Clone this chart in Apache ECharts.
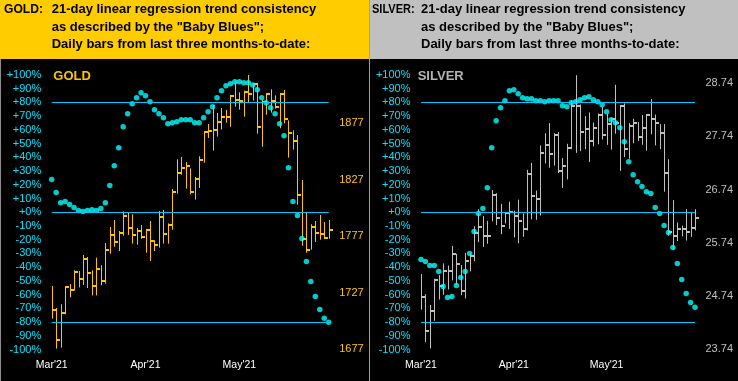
<!DOCTYPE html>
<html>
<head>
<meta charset="utf-8">
<script src="https://cdn.jsdelivr.net/npm/echarts@6/dist/echarts.min.js"></script>
<style>html,body{margin:0;padding:0;background:#000;}#c{width:738px;height:381px;}</style>
</head>
<body>
<div id="c"></div>
<script>
// ---- data ----
const categories = ["03-01","03-02","03-03","03-04","03-05","03-08","03-09","03-10","03-11","03-12",
"03-15","03-16","03-17","03-18","03-19","03-22","03-23","03-24","03-25","03-26",
"03-29","03-30","03-31","04-01","04-05","04-06","04-07","04-08","04-09","04-12",
"04-13","04-14","04-15","04-16","04-19","04-20","04-21","04-22","04-23","04-26",
"04-27","04-28","04-29","04-30","05-03","05-04","05-05","05-06","05-07","05-10",
"05-11","05-12","05-13","05-14","05-17","05-18","05-19","05-20","05-21","05-24",
"05-25","05-26","05-27"];
const monthTickIdx = [0, 21, 42];
const monthLabels = ["Mar'21", "Apr'21", "May'21"];
const refLines = [80, 0, -80];
const goldPriceTicks = [1677, 1727, 1777, 1827, 1877];
const silverPriceTicks = [23.74, 24.74, 25.74, 26.74, 27.74, 28.74];

const goldHigh = [1732.8,1713.3,1716.6,1732.8,1734.6,1746.7,1746.1,1760.3,1758.5,1746.7,
1757.9,1751.1,1770.9,1785.1,1791.3,1781.5,1798.9,1798.3,1796.3,1784.2,
1786.8,1783.0,1790.4,1773.3,1799.2,1800.1,1788.3,1818.7,1845.0,1847.1,
1842.6,1837.0,1829.3,1847.7,1869.5,1876.3,1892.8,1886.0,1890.5,1888.7,
1902.0,1912.9,1904.3,1905.8,1919.7,1912.6,1912.6,1897.8,1903.7,1907.0,
1901.7,1903.7,1906.4,1879.5,1870.7,1866.5,1826.7,1798.0,1787.4,1790.4,
1795.7,1789.5,1791.3];
const goldLow = [1703.9,1677.3,1678.2,1707.7,1722.8,1728.7,1731.6,1733.7,1731.0,1724.5,
1724.5,1733.4,1734.9,1761.4,1767.6,1763.8,1777.4,1778.0,1770.3,1769.4,
1774.7,1762.3,1754.9,1763.8,1766.8,1770.3,1770.3,1782.7,1814.6,1831.4,
1819.0,1814.0,1809.3,1819.6,1842.0,1863.9,1852.7,1865.1,1871.3,1877.5,
1873.9,1891.6,1889.0,1882.8,1895.8,1897.0,1867.7,1856.2,1884.6,1886.3,
1889.9,1872.5,1876.9,1846.5,1853.6,1804.8,1768.5,1762.3,1765.0,1771.8,
1773.8,1774.4,1774.7];
const goldClose = [1711.2,1684.7,1709.2,1731.6,1729.6,1745.5,1739.0,1757.0,1744.6,1733.1,
1747.9,1737.5,1765.0,1778.3,1771.8,1780.0,1794.8,1784.5,1777.7,1781.8,
1776.5,1782.7,1772.7,1769.4,1793.9,1779.2,1786.8,1816.1,1833.2,1837.3,
1839.4,1816.4,1827.9,1844.4,1868.9,1870.4,1871.3,1878.4,1882.8,1882.8,
1900.8,1897.8,1896.7,1904.6,1903.2,1912.0,1873.6,1895.5,1903.2,1896.4,
1891.6,1902.6,1880.4,1868.6,1861.5,1813.7,1774.7,1765.0,1784.8,1780.0,
1779.2,1775.6,1782.7];
const goldBB = [23.8,14.3,7.0,7.8,5.6,3.4,1.2,0.5,1.2,1.9,
1.2,2.7,7.0,19.4,33.9,47.0,62.3,71.8,79.0,83.4,
87.0,84.8,80.5,74.7,71.8,68.8,64.5,65.2,65.9,67.4,
67.4,67.4,65.2,65.2,68.8,73.2,76.8,83.4,88.5,92.1,
93.6,95.0,95.0,94.3,94.3,92.8,89.2,83.4,79.8,76.1,
71.8,64.5,55.8,32.5,7.8,-2.4,-19.2,-35.9,-50.4,-61.3,
-70.8,-77.3,-80.2];

const silverHigh = [25.15,24.77,24.57,25.06,25.13,25.35,25.31,25.68,25.53,25.32,
25.55,25.54,26.05,26.37,26.24,26.15,26.73,26.67,26.47,26.32,
26.51,26.34,26.55,26.29,27.11,27.24,26.72,27.57,27.80,27.99,
27.80,27.82,27.33,27.60,28.42,28.89,28.34,28.12,28.19,28.00,
28.17,28.29,28.16,28.09,28.71,28.32,28.36,27.99,28.07,28.01,
28.14,28.15,28.44,28.15,27.97,27.97,27.31,26.54,26.12,26.06,
26.37,26.30,26.37];
const silverLow = [24.48,23.87,23.75,24.27,24.67,24.76,24.86,25.03,24.95,24.75,
24.69,25.20,25.39,25.75,25.66,25.72,26.14,26.07,25.90,26.10,
26.00,25.84,25.73,25.85,25.97,26.18,26.17,26.25,27.23,27.15,
27.19,27.05,26.77,26.93,27.50,27.43,27.46,27.50,27.26,27.55,
27.59,27.68,27.58,27.49,27.79,27.09,27.35,27.32,27.61,27.65,
27.58,27.47,27.78,27.57,27.50,26.70,25.87,25.60,25.77,25.86,
25.78,25.85,25.97];
const silverClose = [24.71,24.07,24.45,25.04,24.92,25.21,25.21,25.53,25.33,24.84,
25.40,25.48,25.93,26.04,25.87,25.87,26.64,26.20,26.06,26.29,
26.32,26.25,26.14,25.99,27.04,26.61,26.57,27.43,27.57,27.40,
27.77,27.09,27.19,27.53,28.32,28.31,27.83,27.87,27.66,27.89,
28.15,27.77,27.98,28.07,28.00,28.31,27.51,27.94,28.00,27.73,
27.89,28.15,28.06,28.00,27.80,27.06,25.95,25.86,25.99,26.00,
25.95,26.02,26.20];
const silverBB = [-34.4,-35.9,-38.8,-38.8,-43.2,-54.1,-62.1,-61.3,-53.3,-47.5,
-43.2,-30.1,-14.1,-1.0,2.7,17.9,47.0,66.7,76.1,81.2,
88.5,89.2,86.3,83.4,82.7,82.7,81.2,81.2,80.5,81.2,
81.2,81.2,77.6,76.8,79.8,80.5,81.9,83.4,84.1,81.9,
80.5,78.3,73.2,67.4,65.2,61.6,51.4,36.8,27.4,22.3,
18.7,15.0,13.6,3.4,-1.0,-9.7,-14.8,-25.7,-37.3,-49.0,
-59.2,-65.7,-69.3];

// ---- styling ----
const GOLD_C = '#FFC400';
const SILVER_C = '#C0C0C0';
const DOT_C = '#00FFFF';
const LINE_C = '#00C8FF';
const PCT_C = '#00E5FF';
const FONT = '"Liberation Sans", Arial, sans-serif';

function ohlc(h, l, c) { return h.map((v, i) => [i, v, l[i], c[i]]); }
function bbData(arr) { return arr.map((v, i) => [i, v]); }

function barRender(color) {
  return function (params, api) {
    const i = api.value(0);
    const hi = api.coord([i, api.value(1)]);
    const lo = api.coord([i, api.value(2)]);
    const cl = api.coord([i, api.value(3)]);
    const x = Math.round(hi[0]) + 0.5;
    const cy = Math.round(cl[1]);
    return {
      type: 'group',
      children: [
        { type: 'line', shape: { x1: x, y1: hi[1], x2: x, y2: lo[1] }, style: { stroke: color, lineWidth: 1 } },
        { type: 'line', shape: { x1: x - 0.5, y1: cy, x2: x + 3.5, y2: cy }, style: { stroke: color, lineWidth: 2 } }
      ]
    };
  };
}

function xAx(gi) {
  return {
    type: 'category', gridIndex: gi, data: categories, boundaryGap: false,
    axisLine: { show: false }, axisTick: { show: false }, splitLine: { show: false },
    axisLabel: {
      color: '#FFFFFF', fontSize: 10.5, fontFamily: FONT, margin: 10,
      interval: (idx) => monthTickIdx.indexOf(idx) >= 0,
      formatter: (v, idx) => monthLabels[monthTickIdx.indexOf(idx)] || ''
    }
  };
}
function pctAx(gi) {
  return {
    type: 'value', gridIndex: gi, position: 'left', min: -100, max: 100, interval: 10,
    axisLine: { show: false }, axisTick: { show: false }, splitLine: { show: false },
    axisLabel: { color: PCT_C, fontSize: 11, fontFamily: FONT, margin: 10.5,
      formatter: (v) => (v >= 0 ? '+' : '') + v + '%' }
  };
}
function priceAx(gi, min, max, ticks, color, dec) {
  return {
    type: 'value', gridIndex: gi, position: 'right', min: min, max: max,
    axisLine: { show: false }, axisTick: { show: false, customValues: ticks }, splitLine: { show: false },
    axisLabel: { color: color, fontSize: 11, fontFamily: FONT, margin: 10.5, customValues: ticks,
      formatter: (v) => v.toFixed(dec) }
  };
}
function refMark() {
  return {
    silent: true, symbol: 'none', animation: false,
    label: { show: false },
    lineStyle: { color: LINE_C, width: 1, type: 'solid' },
    data: refLines.map(v => ({ yAxis: v }))
  };
}

const headerLines = ['21-day linear regression trend consistency', 'as described by the "Baby Blues";', 'Daily bars from last three months-to-date:'];
const headerY = [9.5, 27, 44.5];
function headerText(label, x0, x1, sx) {
  const els = [{ type: 'text', x: x0, y: headerY[0], scaleX: sx, style: { text: label, font: 'bold 13px ' + FONT, fill: '#000', verticalAlign: 'middle' } }];
  headerLines.forEach((t, k) => els.push({ type: 'text', x: x1, y: headerY[k], style: { text: t, font: 'bold 13px ' + FONT, fill: '#000', verticalAlign: 'middle' } }));
  return els;
}

const chart = echarts.init(document.getElementById('c'), null, { renderer: 'canvas' });
chart.setOption({
  backgroundColor: '#000000',
  animation: false,
  grid: [
    { left: 51.7, top: 75, width: 277, height: 274.5 },
    { left: 421, top: 75, width: 274, height: 274.5 }
  ],
  xAxis: [xAx(0), xAx(1)],
  yAxis: [
    pctAx(0),
    priceAx(0, 1676.56, 1919.69, goldPriceTicks, GOLD_C, 0),
    pctAx(1),
    priceAx(1, 23.7306, 28.894, silverPriceTicks, SILVER_C, 2)
  ],
  graphic: [
    { type: 'rect', shape: { x: 0, y: 0, width: 369, height: 59 }, style: { fill: '#FFCC00' } },
    { type: 'rect', shape: { x: 370, y: 0, width: 368, height: 59 }, style: { fill: '#C0C0C0' } },
    { type: 'rect', shape: { x: 0, y: 59, width: 1, height: 322 }, style: { fill: '#8C8C8C' } },
    { type: 'rect', shape: { x: 369, y: 0, width: 1, height: 381 }, style: { fill: '#A0A0A0' } },
    ...headerText('GOLD:', 4, 51.7, 0.93),
    ...headerText('SILVER:', 372, 421, 0.85),
    { type: 'text', x: 53.3, y: 76, style: { text: 'GOLD', font: 'bold 13px ' + FONT, fill: GOLD_C, verticalAlign: 'middle' } },
    { type: 'text', x: 417.7, y: 76, style: { text: 'SILVER', font: 'bold 13px ' + FONT, fill: '#B4B4B4', verticalAlign: 'middle' } }
  ],
  series: [
    { type: 'custom', xAxisIndex: 0, yAxisIndex: 1, renderItem: barRender(GOLD_C), data: ohlc(goldHigh, goldLow, goldClose), encode: { x: 0, y: [1, 2, 3] }, z: 2, clip: false },
    { type: 'scatter', xAxisIndex: 0, yAxisIndex: 0, data: bbData(goldBB), symbol: 'circle', symbolSize: 5.5, itemStyle: { color: DOT_C }, z: 3, markLine: refMark() },
    { type: 'custom', xAxisIndex: 1, yAxisIndex: 3, renderItem: barRender(SILVER_C), data: ohlc(silverHigh, silverLow, silverClose), encode: { x: 0, y: [1, 2, 3] }, z: 2, clip: false },
    { type: 'scatter', xAxisIndex: 1, yAxisIndex: 2, data: bbData(silverBB), symbol: 'circle', symbolSize: 5.5, itemStyle: { color: DOT_C }, z: 3, markLine: refMark() }
  ]
});
</script>
</body>
</html>
